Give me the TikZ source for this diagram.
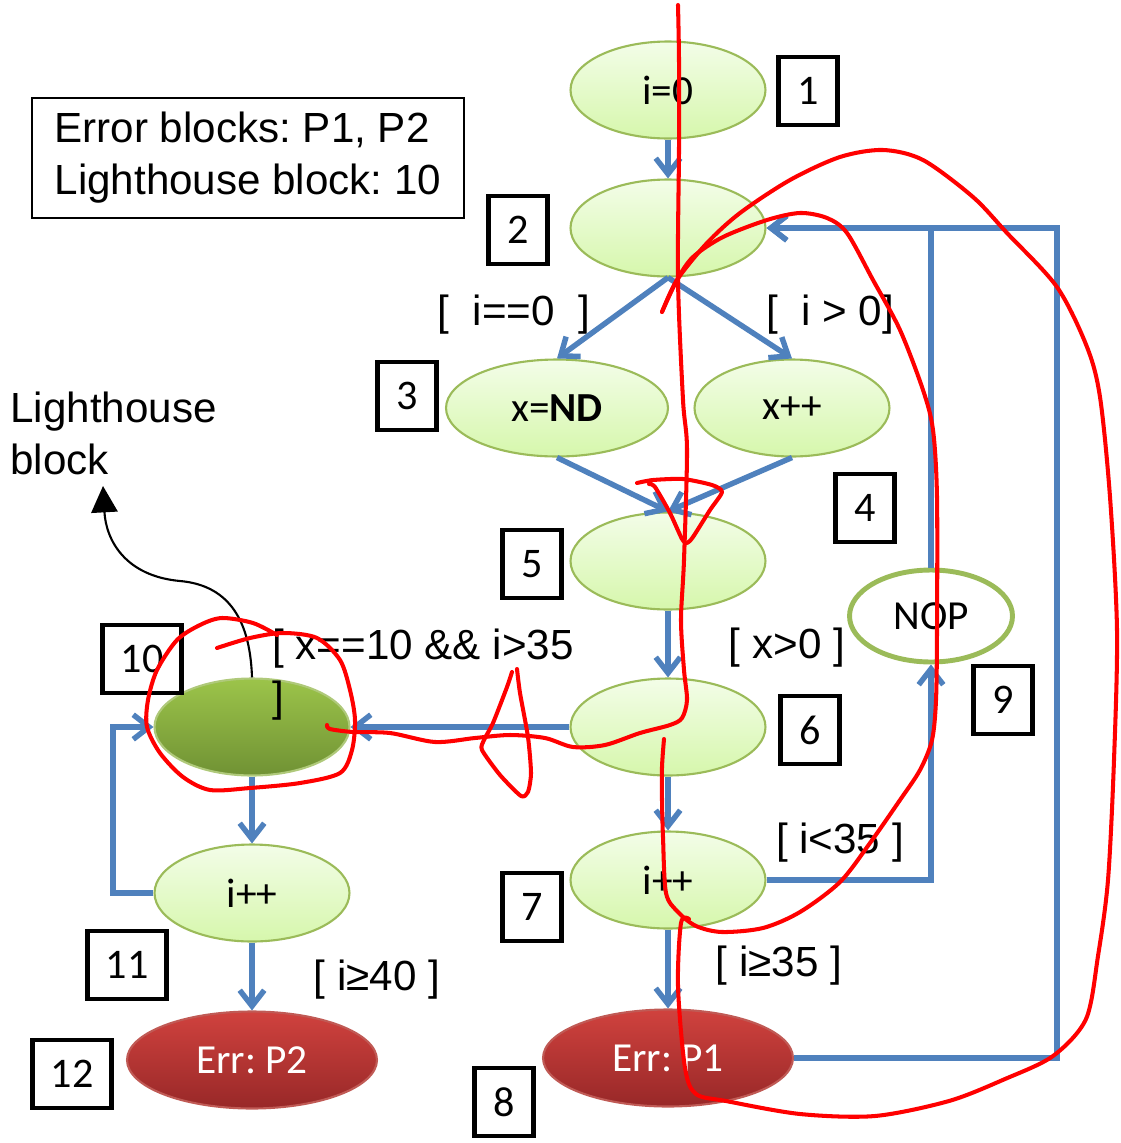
\documentclass[tikz,border=0pt]{standalone}
\usepackage{fontspec}
\setmainfont{Liberation Sans}
\newfontfamily\calfont{Carlito}
\usetikzlibrary{shapes.geometric,arrows.meta}
\definecolor{bl}{RGB}{79,129,189}
\definecolor{grn}{RGB}{155,187,89}
\definecolor{ltop}{RGB}{243,253,232}
\definecolor{lbot}{RGB}{214,247,172}
\definecolor{dtop}{RGB}{156,196,74}
\definecolor{dbot}{RGB}{112,146,52}
\definecolor{etop}{RGB}{208,66,62}
\definecolor{ebot}{RGB}{152,40,40}
\definecolor{eborder}{RGB}{192,90,85}
\frenchspacing
\begin{document}
\begin{tikzpicture}[x=0.02cm,y=-0.02cm,
  blk/.style={ellipse, draw=grn, line width=1.2pt, top color=ltop, bottom color=lbot,
    minimum width=3.9cm, minimum height=1.94cm, inner sep=0pt,
    font=\calfont\fontsize{23.5}{27}\selectfont},
  darkblk/.style={top color=dtop, bottom color=dbot, draw=grn!80!white},
  errblk/.style={top color=etop, bottom color=ebot, draw=eborder, text=white, minimum width=5cm},
  numbox/.style={draw, line width=2.8pt, minimum width=1.18cm, minimum height=1.36cm,
    inner sep=0pt, font=\calfont\fontsize{24}{28}\selectfont},
  widebox/.style={numbox, minimum width=1.58cm},
  lbl/.style={font=\fontsize{24}{29.5}\selectfont, inner sep=0pt},
  flow/.style={draw=bl, line width=3.1pt, -{Straight Barb[length=9pt,width=14pt]}},
  scrib/.style={draw=red, line width=2.3pt, line cap=round, line join=round}]
\useasboundingbox (0,0) rectangle (1120,1143);

% legend
\node[lbl, draw, line width=1.1pt, minimum width=8.64cm, minimum height=2.4cm, align=left] (legend) at (248,158)
  {Error blocks: P1, P2\\Lighthouse block: 10};

% blocks
\node[blk] (n1) at (668,90) {i=0};
\node[blk] (n2) at (668,228) {};
\node[blk, minimum width=4.44cm] (n3) at (557,408) {x=\textbf{ND}};
\node[blk] (n4) at (792,408) {x++};
\node[blk] (n5) at (668,561) {};
\node[blk] (n6) at (668,727) {};
\node[blk] (n7) at (668,880) {i++};
\node[blk, errblk] (n8) at (668,1058) {Err: P1};
\node[ellipse, draw=grn, line width=2.8pt, fill=white, minimum width=3.26cm, minimum height=1.84cm,
  inner sep=0pt, font=\calfont\fontsize{23.5}{27}\selectfont] (n9) at (931,616) {NOP};
\node[blk, darkblk] (n10) at (252,727) {};
\node[blk] (n11) at (252,893) {i++};
\node[blk, errblk] (n12) at (252,1060) {Err: P2};

% number boxes
\node[numbox] (b1) at (808,91) {1};
\node[numbox] (b2) at (518,230) {2};
\node[numbox] (b3) at (407,396) {3};
\node[numbox] (b4) at (865,508) {4};
\node[numbox] (b5) at (532,564) {5};
\node[numbox] (b6) at (810,730) {6};
\node[numbox] (b7) at (532,907) {7};
\node[numbox] (b8) at (504,1102) {8};
\node[numbox] (b9) at (1003,700) {9};
\node[widebox] (b10) at (142,659) {10};
\node[widebox] (b11) at (127,965) {11};
\node[widebox] (b12) at (72,1074) {12};

% labels
\node[lbl] (l23) at (514,315) {[\ \ i==0\ \ ]};
\node[lbl] (l24) at (830,315) {[\ \ i > 0]};
\node[lbl] (l67) at (787,648) {[ x>0 ]};
\node[lbl] (l79) at (840,843) {[ i<35 ]};
\node[lbl] (l78) at (779,966) {[ i≥35 ]};
\node[lbl] (l1112) at (377,980) {[ i≥40 ]};
\node[lbl, anchor=north west, align=left] (l610) at (272,629) {[ x==10 \&\& i>35\\]};
\node[lbl, anchor=north west, align=left] (lh) at (10,392) {Lighthouse\\block};
\coordinate (lhtip) at (103,486);

% connectors
\draw[flow] (n1) -- (n2);
\draw[flow] (n2.south) -- (n3.north);
\draw[flow] (n2.south) -- (n4.north);
\draw[flow] (n3.south) -- (n5.north);
\draw[flow] (n4.south) -- (n5.north);
\draw[flow] (n5) -- (n6);
\draw[flow] (n6) -- (n7);
\draw[flow] (n7) -- (n8);
\draw[flow] (n7.east) -| (n9.south);
\draw[flow] (n9.north) |- (n2.east);
\coordinate (rgt) at (1057,600);
\draw[flow] (n8.east) -| (rgt) |- (n2.east);
\draw[flow] (n6.west) -- (n10.east);
\draw[flow] (n10) -- (n11);
\coordinate (lft) at (113,800);
\draw[flow] (n11.west) -| (lft) |- (n10.west);
\draw[flow] (n11) -- (n12);

\draw[line width=1.2pt, -{Triangle[length=15pt,width=15pt]}]
  (n10.north) .. controls (250,615) and (225,585) .. (180,581)
  .. controls (125,576) and (106,540) .. (lhtip);

% red hand-drawn strokes
\draw[scrib] plot[smooth, tension=0.5] coordinates {(678,5) (679,60) (679,150) (678,280) (683,400) (687,450) (684,560) (681,620) (684,670) (687,700) (682,718) (670,725) (640,733) (605,745) (573,747) (545,738) (510,735) (475,738) (435,742) (390,733) (353,732) (330,729) (327,725)};
\draw[scrib] plot[smooth, tension=0.4] coordinates {(517,669) (520,693) (528,737) (531,773) (528,792) (521,796) (500,775) (482,750) (484,740) (493,723) (507,687) (512,672)};
\draw[scrib] plot[smooth, tension=0.4] coordinates {(637,483) (653,480) (683,479) (712,485) (722,492) (710,510) (693,537) (687,543) (682,539) (670,513) (655,487) (649,484)};
\draw[scrib] plot[smooth, tension=0.5] coordinates {(664,739) (662,767) (662,800) (663,837) (666,893) (678,912) (696,926) (722,932) (763,928) (800,912) (840,882) (870,843) (900,800) (920,770) (932,740) (936,700) (937,630) (937,497) (933,430) (923,390) (900,330) (873,280) (847,233) (827,218) (800,213) (767,220) (723,237) (693,257) (677,280) (662,312)};
\draw[scrib] plot[smooth, tension=0.5] coordinates {(662,312) (677,280) (707,243) (740,213) (790,180) (840,157) (883,150) (923,160) (973,197) (1007,233) (1057,287) (1087,347) (1100,397) (1110,497) (1117,630) (1114,760) (1108,880) (1098,956) (1086,1019) (1053,1056) (1005,1079) (949,1101) (875,1116) (800,1114) (726,1101) (696,1094) (685,1068) (678,986) (681,923) (689,919)};
\draw[scrib] plot[smooth, tension=0.5] coordinates {(217,648) (250,638) (283,633) (317,638) (340,660) (350,690) (355,720) (352,750) (340,773) (300,783) (250,788) (210,790) (183,777) (160,753) (147,727) (148,700) (157,670) (177,640) (200,625) (222,618) (253,623) (277,635)};
\end{tikzpicture}
\end{document}
